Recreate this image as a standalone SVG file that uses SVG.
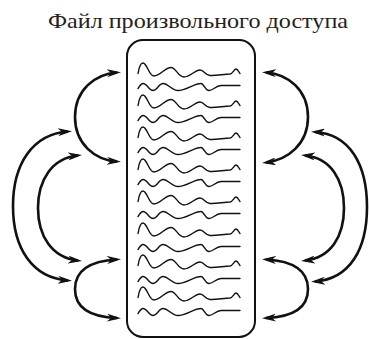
<svg xmlns="http://www.w3.org/2000/svg" xmlns:xlink="http://www.w3.org/1999/xlink" width="369" height="339" viewBox="0 0 369 339">
  <style>
    .title { font-family: "Liberation Serif", "DejaVu Serif", serif; font-size: 21.5px; fill: #222; }
    .box { fill: #fff; stroke: #111; stroke-width: 2; }
    .wave { fill: none; stroke: #111; stroke-width: 1.4; stroke-linecap: round; }
    .arc { fill: none; stroke: #111; stroke-width: 2.6; marker-start: url(#ah); marker-end: url(#ah); }
  </style>
  <defs>
    <marker id="ah" viewBox="0 0 14 8" markerWidth="14" markerHeight="8" markerUnits="userSpaceOnUse" refX="10" refY="4" orient="auto-start-reverse">
      <path d="M0,0 L14,4 L0,8 L4,4 z" fill="#111"/>
    </marker>
    <path id="waveA" class="wave" d="M0,3.5 C1,-2.5 3,-7 5,-7 C9,-7 11,6 16,6 C22,6 27,-2.5 33,-2.5 C38,-2.5 40,7 46,7 C52,7 57,0 62,0 C66,0 67,5 72,5.5 C78,6 86,4 92,4 C95,3.5 96,-1 98,-1 C100,-1 101,2.5 102,3.5"/>
    <path id="waveB" class="wave" d="M0,1.5 C2,-1.5 3,-3.5 5,-3.5 C9,-3.5 11,3.5 15,3.5 C19,3.5 21,-3.5 25,-3.5 C30,-3.5 34,3.5 40,3.5 C48,3.5 56,-3.5 63,-3.5 C66,-3.5 67,3.5 71,3.5 C75,3.5 78,-1.5 83,-1.5 C90,-1.5 96,-1.5 102,-1.5"/>
  </defs>

  <g id="title">
    <text class="title" x="198" y="28" text-anchor="middle" textLength="300" lengthAdjust="spacingAndGlyphs">Файл произвольного доступа</text>
  </g>

  <g id="file">
    <rect class="box" x="127" y="40" width="128" height="297" rx="16" ry="16"/>
    <use xlink:href="#waveA" href="#waveA" x="138" y="70"/>
    <use xlink:href="#waveB" href="#waveB" x="138" y="87"/>
    <use xlink:href="#waveA" href="#waveA" x="138" y="102"/>
    <use xlink:href="#waveB" href="#waveB" x="138" y="119"/>
    <use xlink:href="#waveA" href="#waveA" x="138" y="134"/>
    <use xlink:href="#waveB" href="#waveB" x="138" y="151"/>
    <use xlink:href="#waveA" href="#waveA" x="138" y="166"/>
    <use xlink:href="#waveB" href="#waveB" x="138" y="183"/>
    <use xlink:href="#waveA" href="#waveA" x="138" y="198"/>
    <use xlink:href="#waveB" href="#waveB" x="138" y="215"/>
    <use xlink:href="#waveA" href="#waveA" x="138" y="230"/>
    <use xlink:href="#waveB" href="#waveB" x="138" y="248"/>
    <use xlink:href="#waveA" href="#waveA" x="138" y="262"/>
    <use xlink:href="#waveB" href="#waveB" x="138" y="280"/>
    <use xlink:href="#waveA" href="#waveA" x="138" y="294"/>
    <use xlink:href="#waveB" href="#waveB" x="138" y="312"/>
  </g>

  <g id="connectors">
    <!-- left side -->
    <path class="arc" d="M117,72.5 C95,74 75,90 75,117 C75,144 95,160 117,161.5"/>
    <path class="arc" d="M68,131.5 C32,134 13,165 13,206 C13,248 32,278 68,280.5"/>
    <path class="arc" d="M78,155.5 C52,158 38,180 38,208 C38,236 52,258 78,260.5"/>
    <path class="arc" d="M117,259.5 C90,261 75,270 75,289 C75,308 90,317 117,318"/>
    <!-- right side -->
    <path class="arc" d="M266,72.5 C288,74 308,90 308,117 C308,144 288,160 266,162.5"/>
    <path class="arc" d="M315,132 C350,134 367,165 367,207 C367,249 350,279 315,281.5"/>
    <path class="arc" d="M305,155.5 C331,158 344,180 344,208 C344,236 331,258 305,260.5"/>
    <path class="arc" d="M266,259.5 C293,261 308,270 308,289 C308,308 293,317 266,318"/>
  </g>
</svg>
